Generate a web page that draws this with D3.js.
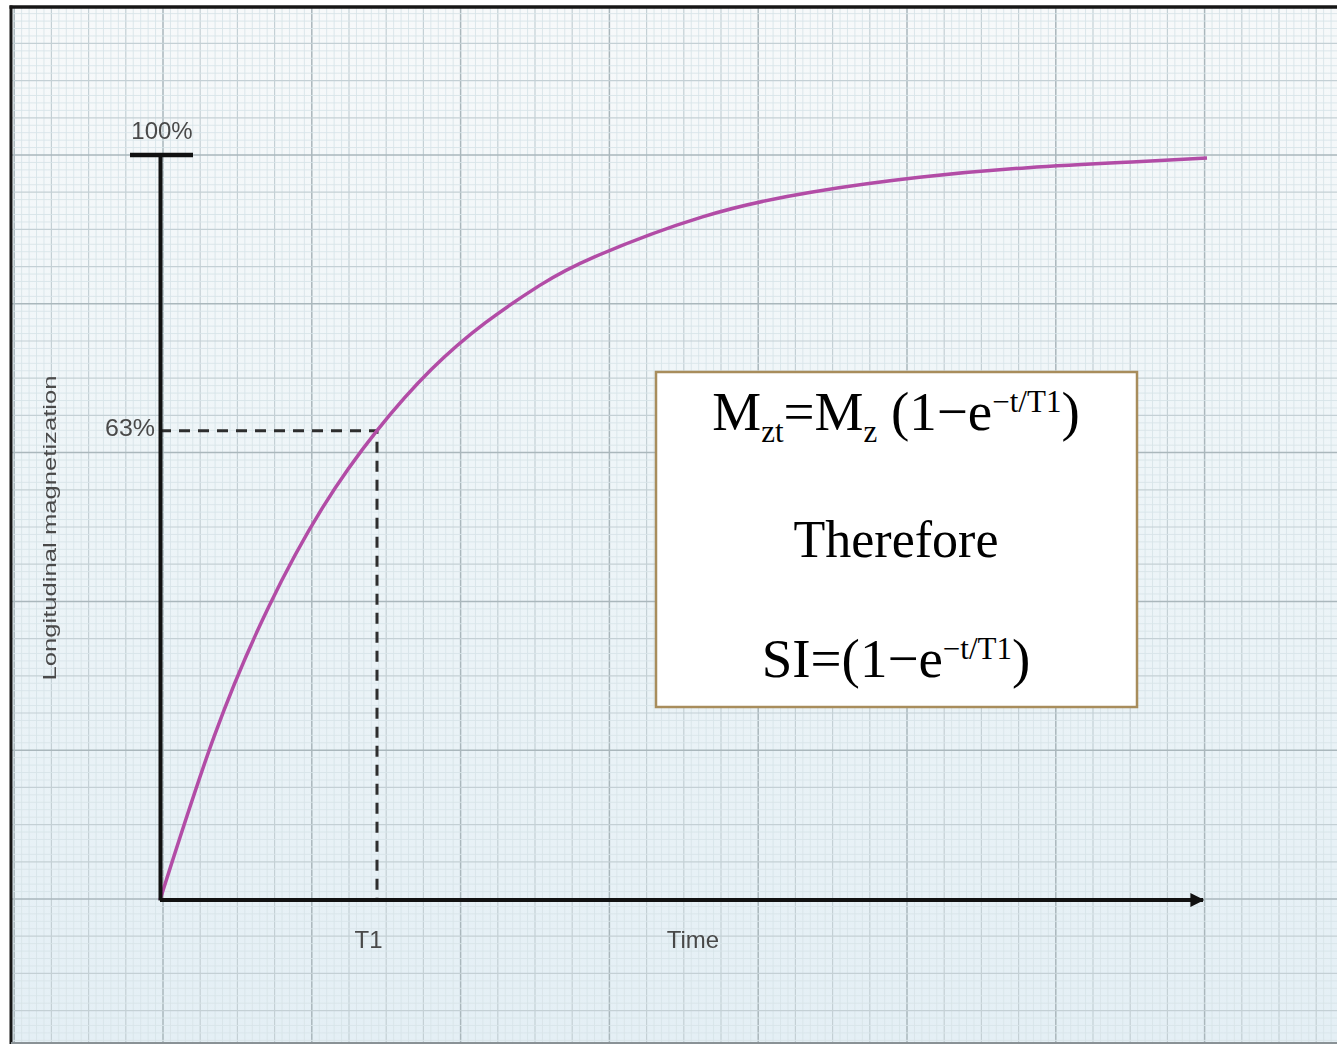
<!DOCTYPE html>
<html>
<head>
<meta charset="utf-8">
<script src="https://cdn.jsdelivr.net/npm/d3@7"></script>
<style>
  html, body { margin: 0; padding: 0; background: #ffffff; }
  svg { display: block; }
</style>
</head>
<body>
<svg id="chart" width="1337" height="1045"></svg>
<script>
// Longitudinal magnetization recovery, time in multiples of T1, value in percent
const timeT1 = [0, 0.25, 0.5, 0.75, 1, 1.25, 1.5, 1.75, 2, 2.5, 3, 3.5, 4, 4.5, 4.825];
const magnetization = [0, 22, 39.3, 52.7, 63, 71.2, 77.5, 82.5, 86.3, 91.7, 95, 97, 98.3, 99.1, 99.6];

// Marked levels and labels
const yMarks = [63, 100];
const yMarkLabels = ["63%", "100%"];
const xMarks = [1];
const xMarkLabels = ["T1"];
const xTitle = "Time";
const yTitle = "Longitudinal magnetization";

const svg = d3.select("#chart");
const W = 1337, H = 1045;

const x = d3.scaleLinear().domain([0, 4.825]).range([160, 1207]);
const y = d3.scaleLinear().domain([0, 100]).range([900, 155]);

const defs = svg.append("defs");
const grad = defs.append("linearGradient").attr("id", "paper")
  .attr("x1", 0).attr("y1", 0).attr("x2", 0).attr("y2", 1);
grad.append("stop").attr("offset", "0%").attr("stop-color", "#f7f9fa");
grad.append("stop").attr("offset", "45%").attr("stop-color", "#eef5f8");
grad.append("stop").attr("offset", "100%").attr("stop-color", "#e4eff5");

defs.append("filter").attr("id", "soft")
  .append("feGaussianBlur").attr("stdDeviation", 0.6);
defs.append("filter").attr("id", "softText")
  .append("feGaussianBlur").attr("stdDeviation", 0.35);

defs.append("marker").attr("id", "arrow")
  .attr("viewBox", "0 0 10 10").attr("refX", 9).attr("refY", 5)
  .attr("markerUnits", "userSpaceOnUse")
  .attr("markerWidth", 16).attr("markerHeight", 14)
  .attr("orient", "auto")
  .append("path").attr("d", "M0,0 L10,5 L0,10 Z").attr("fill", "#111");

// Graph paper
const paperL = 11, paperT = 7, paperB = 1043;
svg.append("rect").attr("x", paperL).attr("y", paperT)
  .attr("width", W - paperL).attr("height", paperB - paperT)
  .attr("fill", "url(#paper)");

const gGrid = svg.append("g").attr("filter", "url(#soft)");
const step = 148.8 / 20;
const gx = d3.scaleLinear().domain([0, 1]).range([163, 163 + step]);
const gy = d3.scaleLinear().domain([0, 1]).range([155, 155 + step]);
function gridStyle(i) {
  const k = ((i % 20) + 20) % 20;
  if (k === 0) return ["#aab7bc", 1.5];
  if (k % 5 === 0) return ["#c4d0d5", 1.2];
  return ["#d8e4e9", 0.9];
}
d3.range(-20, 158).forEach(i => {
  const px = gx(i);
  if (px <= paperL + 1 || px > W) return;
  const [c, w] = gridStyle(i);
  gGrid.append("line").attr("x1", px).attr("x2", px)
    .attr("y1", paperT).attr("y2", paperB).attr("stroke", c).attr("stroke-width", w);
});
d3.range(-20, 140).forEach(i => {
  const py = gy(i);
  if (py <= paperT + 1 || py >= paperB) return;
  const [c, w] = gridStyle(i);
  gGrid.append("line").attr("x1", paperL).attr("x2", W)
    .attr("y1", py).attr("y2", py).attr("stroke", c).attr("stroke-width", w);
});

// Paper frame
svg.append("line").attr("x1", paperL - 1.5).attr("x2", W).attr("y1", paperT).attr("y2", paperT)
  .attr("stroke", "#161616").attr("stroke-width", 3.5);
svg.append("line").attr("x1", paperL).attr("x2", paperL).attr("y1", paperT - 1.5).attr("y2", paperB + 1)
  .attr("stroke", "#161616").attr("stroke-width", 3);
svg.append("line").attr("x1", paperL).attr("x2", W).attr("y1", paperB).attr("y2", paperB)
  .attr("stroke", "#8a9296").attr("stroke-width", 2);

const gChart = svg.append("g");

// Guides to the T1 point
const t1 = xMarks[0], m63 = yMarks[0];
gChart.append("path")
  .attr("d", `M${x(0)},${y(m63)}H${x(t1)}V${y(0)}`)
  .attr("fill", "none").attr("stroke", "#2e2e2e").attr("stroke-width", 3)
  .attr("stroke-dasharray", "11,8");

// Recovery curve
const line = d3.line().x((d, i) => x(timeT1[i])).y(d => y(d)).curve(d3.curveNatural);
gChart.append("path").datum(magnetization)
  .attr("d", line).attr("fill", "none")
  .attr("stroke", "#b24ca6").attr("stroke-width", 3.5);

// Axes
const labelFont = "Liberation Sans, Arial, sans-serif";
const xAxis = d3.axisBottom(x).tickValues(xMarks).tickFormat((d, i) => xMarkLabels[i])
  .tickSize(0).tickSizeOuter(0).tickPadding(31);
const gx0 = gChart.append("g").attr("transform", `translate(0,${y(0)})`).call(xAxis);
gx0.select(".domain").attr("stroke", "#111").attr("stroke-width", 4)
  .attr("d", `M${x(0)},0H${x.range()[1] - 4}`).attr("marker-end", "url(#arrow)");
gx0.selectAll(".tick text").attr("font-family", labelFont)
  .attr("font-size", 24).attr("fill", "#4a4a4a").attr("dx", -9)
  .attr("filter", "url(#softText)");

const yAxis = d3.axisLeft(y).tickValues([]).tickSizeOuter(0);
const gy0 = gChart.append("g").attr("transform", `translate(${x(0)},0)`).call(yAxis);
gy0.select(".domain").attr("stroke", "#111").attr("stroke-width", 4);

// Top cap of the vertical axis
gChart.append("line").attr("x1", x(0) - 30).attr("x2", x(0) + 33)
  .attr("y1", y(100)).attr("y2", y(100)).attr("stroke", "#111").attr("stroke-width", 4.5);

const gLabels = gChart.append("g").attr("filter", "url(#softText)").attr("fill", "#4a4a4a")
  .attr("font-family", labelFont);
gLabels.append("text").attr("x", x(0) + 2).attr("y", y(yMarks[1]) - 16)
  .attr("text-anchor", "middle").attr("font-size", 24).text(yMarkLabels[1]);
gLabels.append("text").attr("x", x(0) - 5).attr("y", y(yMarks[0]) + 5)
  .attr("text-anchor", "end").attr("font-size", 23)
  .attr("textLength", 50).attr("lengthAdjust", "spacingAndGlyphs").text(yMarkLabels[0]);

gLabels.append("text").attr("x", 693).attr("y", 948)
  .attr("text-anchor", "middle").attr("font-size", 24).text(xTitle);

gLabels.append("text")
  .attr("transform", `translate(56,528) rotate(-90)`)
  .attr("text-anchor", "middle").attr("font-size", 19)
  .attr("textLength", 305).attr("lengthAdjust", "spacingAndGlyphs")
  .text(yTitle);

// Formula box
const box = svg.append("g");
box.append("rect").attr("x", 656).attr("y", 372).attr("width", 481).attr("height", 335)
  .attr("fill", "#ffffff").attr("stroke", "#a88d5c").attr("stroke-width", 2.5);

const serif = "Liberation Serif, Times New Roman, serif";
const cx = 896;

const f1 = box.append("text").attr("x", cx).attr("y", 430).attr("text-anchor", "middle")
  .attr("font-family", serif).attr("font-size", 55).attr("fill", "#000");
f1.append("tspan").text("M");
f1.append("tspan").attr("font-size", 31).attr("dy", 12).text("zt");
f1.append("tspan").attr("dy", -12).text("=M");
f1.append("tspan").attr("font-size", 31).attr("dy", 12).text("z");
f1.append("tspan").attr("dy", -12).text("\u00a0(1\u2212e");
f1.append("tspan").attr("font-size", 31).attr("dy", -18).text("\u2212t/T1");
f1.append("tspan").attr("dy", 18).text(")");

box.append("text").attr("x", cx).attr("y", 557).attr("text-anchor", "middle")
  .attr("font-family", serif).attr("font-size", 52).attr("fill", "#000").text("Therefore");

const f2 = box.append("text").attr("x", cx).attr("y", 677).attr("text-anchor", "middle")
  .attr("font-family", serif).attr("font-size", 55).attr("fill", "#000");
f2.append("tspan").text("SI=(1\u2212e");
f2.append("tspan").attr("font-size", 31).attr("dy", -18).text("\u2212t/T1");
f2.append("tspan").attr("dy", 18).text(")");
</script>
</body>
</html>
